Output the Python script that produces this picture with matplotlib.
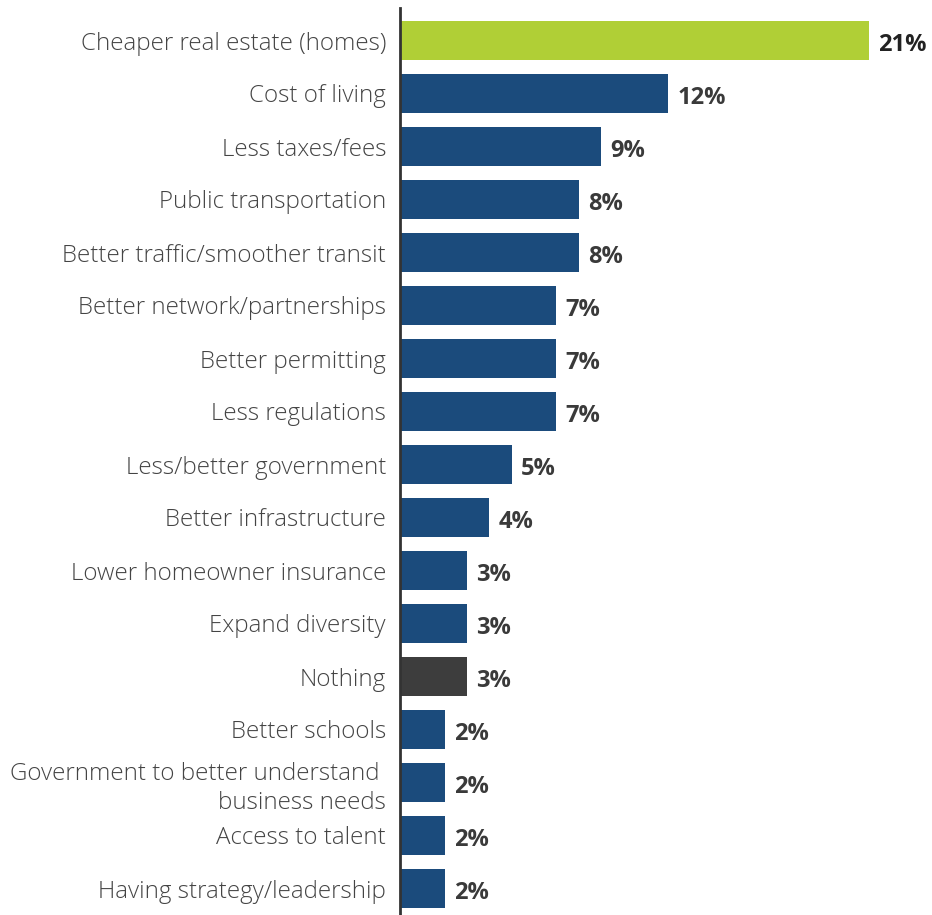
import matplotlib.pyplot as plt

# 数据
labels = [
    'Cheaper real estate (homes)',
    'Cost of living',
    'Less taxes/fees',
    'Public transportation',
    'Better traffic/smoother transit',
    'Better network/partnerships',
    'Better permitting',
    'Less regulations',
    'Less/better government',
    'Better infrastructure',
    'Lower homeowner insurance',
    'Expand diversity',
    'Nothing',
    'Better schools',
    'Government to better understand \nbusiness needs',
    'Access to talent',
    'Having strategy/leadership',
]
values = [21, 12, 9, 8, 8, 7, 7, 7, 5, 4, 3, 3, 3, 2, 2, 2, 2]

blue = '#1b4b7c'
colors = [blue] * len(values)
colors[0] = '#b0cf36'
colors[12] = '#3d3d3d'

plt.rcParams['font.family'] = ['Open Sans', 'DejaVu Sans']

fig = plt.figure(figsize=(9.32, 9.15), dpi=100, facecolor='white')
ax = fig.add_axes([400 / 932, 0, 532 / 932, 1])

y = list(range(len(values)))
ax.barh(y, values, height=0.74, color=colors)

for i, v in enumerate(values):
    ax.text(v + 0.42, i + 0.02, f'{v}%', va='center_baseline', ha='left',
            fontsize=17, fontweight='bold',
            color='#222222' if i == 0 else '#3a3a3a')

ax.set_xlim(0, 532 / 22.33)
ax.set_ylim(915 / 53 - 40.5 / 53, -40.5 / 53)

ax.set_yticks(y)
ax.set_yticklabels(labels, fontsize=17.4, color='#444444',
                   fontweight='light', linespacing=1.3)
for t in ax.get_yticklabels():
    t.set_verticalalignment('center_baseline')
ax.tick_params(axis='y', length=0, pad=10)
ax.set_xticks([])

for s in ['top', 'right', 'bottom']:
    ax.spines[s].set_visible(False)
ax.spines['left'].set_color('#333333')
ax.spines['left'].set_linewidth(2)
ax.spines['left'].set_bounds(16.5, (8 - 40.5) / 53)

fig.savefig('out.png', dpi=100, facecolor='white')
